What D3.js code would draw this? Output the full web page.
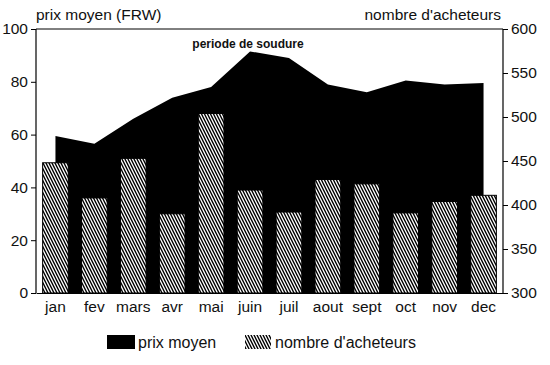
<!DOCTYPE html>
<html>
<head>
<meta charset="utf-8">
<script src="https://cdn.jsdelivr.net/npm/d3@7"></script>
<style>
  body { margin: 0; background: #fff; }
  text { font-family: "Liberation Sans", Arial, sans-serif; fill: #111; }
</style>
</head>
<body>
<div id="chart"></div>
<script>
// data
var months = ['jan', 'fev', 'mars', 'avr', 'mai', 'juin', 'juil', 'aout', 'sept', 'oct', 'nov', 'dec'];
var prixMoyen = [59.5, 56.5, 66, 74, 78, 91.5, 89, 79, 76, 80.5, 79, 79.5];
var acheteurs = [448, 408, 453, 390, 504, 417, 392, 429, 424, 391, 404, 411];
var leftTicks = [0, 20, 40, 60, 80, 100];
var rightTicks = [300, 350, 400, 450, 500, 550, 600];

var svgWidth = 550, svgHeight = 365;
var margin = {top: 29, right: 47, bottom: 72, left: 36};
var chartWidth = svgWidth - margin.left - margin.right;
var chartHeight = svgHeight - margin.top - margin.bottom;

var svg = d3.select('#chart').append('svg')
    .attr('width', svgWidth)
    .attr('height', svgHeight);

// hatch pattern for the bars (steep "\" lines, 3px apart)
var defs = svg.append('defs');
var pat = defs.append('pattern')
    .attr('id', 'hatch')
    .attr('patternUnits', 'userSpaceOnUse')
    .attr('width', 3)
    .attr('height', 6);
pat.append('rect').attr('width', 3).attr('height', 6).attr('fill', '#fff');
pat.append('path')
    .attr('d', 'M-4.5,-3L1.5,9M-1.5,-3L4.5,9M1.5,-3L7.5,9')
    .attr('stroke', '#000').attr('stroke-width', 1.4);

var g = svg.append('g')
    .attr('transform', `translate(${margin.left}, ${margin.top})`);

var x = d3.scaleBand()
    .domain(months)
    .range([0, chartWidth])
    .paddingInner(0.34)
    .paddingOuter(0.17);

var yLeft = d3.scaleLinear().domain([0, 100]).range([chartHeight, 0]);
var yRight = d3.scaleLinear().domain([300, 600]).range([chartHeight, 0]);

// black area for prix moyen
var area = d3.area()
    .x(function(d, i) { return x(months[i]) + x.bandwidth() / 2; })
    .y0(chartHeight)
    .y1(function(d) { return yLeft(d); });

g.append('path')
    .datum(prixMoyen)
    .attr('d', area)
    .attr('fill', '#000');

// hatched bars for nombre d'acheteurs
g.selectAll('.bar')
    .data(acheteurs)
    .enter()
    .append('rect')
    .attr('class', 'bar')
    .attr('x', function(d, i) { return x(months[i]); })
    .attr('y', function(d) { return yRight(d); })
    .attr('width', x.bandwidth())
    .attr('height', function(d) { return chartHeight - yRight(d); })
    .attr('fill', 'url(#hatch)')
    .attr('stroke', '#000')
    .attr('stroke-width', 1);

// frame
g.append('line').attr('x1', 0).attr('x2', chartWidth).attr('y1', 0).attr('y2', 0)
    .attr('stroke', '#000').attr('stroke-width', 1);

// axes
var leftAxis = d3.axisLeft(yLeft).tickValues(leftTicks).tickSize(5).tickPadding(3);
var rightAxis = d3.axisRight(yRight).tickValues(rightTicks).tickSize(5).tickPadding(3);
var bottomAxis = d3.axisBottom(x).tickSize(0).tickPadding(8);

var la = g.append('g').call(leftAxis);
var ra = g.append('g').attr('transform', `translate(${chartWidth}, 0)`).call(rightAxis);
var ba = g.append('g').attr('transform', `translate(0, ${chartHeight})`).call(bottomAxis);

[la, ra, ba].forEach(function(a) {
  a.selectAll('path').attr('stroke', '#000').attr('stroke-width', 1.2);
  a.selectAll('line').attr('stroke', '#000');
  a.selectAll('text').style('font-family', '"Liberation Sans", Arial, sans-serif')
      .style('font-size', '15.5px').attr('fill', '#111');
});
la.select('.domain').attr('d', `M0,${chartHeight}V0`);
ra.select('.domain').attr('d', `M0,${chartHeight}V0`);

// axis titles
svg.append('text')
    .attr('x', margin.left)
    .attr('y', 20)
    .style('font-size', '15.5px')
    .text('prix moyen (FRW)');

svg.append('text')
    .attr('x', margin.left + chartWidth - 2)
    .attr('y', 20)
    .attr('text-anchor', 'end')
    .style('font-size', '15.5px')
    .text("nombre d'acheteurs");

// annotation
svg.append('text')
    .attr('x', 248)
    .attr('y', 48)
    .attr('text-anchor', 'middle')
    .style('font-size', '12px')
    .style('font-weight', 'bold')
    .text('periode de soudure');

// legend
var legend = svg.append('g').attr('transform', 'translate(107, 335)');
legend.append('rect').attr('x', 0).attr('y', 0).attr('width', 28).attr('height', 14).attr('fill', '#000');
legend.append('text').attr('x', 31).attr('y', 13).style('font-size', '16px').text('prix moyen');
legend.append('rect').attr('x', 138).attr('y', 0).attr('width', 26).attr('height', 14)
    .attr('fill', 'url(#hatch)');
legend.append('text').attr('x', 168).attr('y', 13).style('font-size', '16px').text("nombre d'acheteurs");
</script>
</body>
</html>
